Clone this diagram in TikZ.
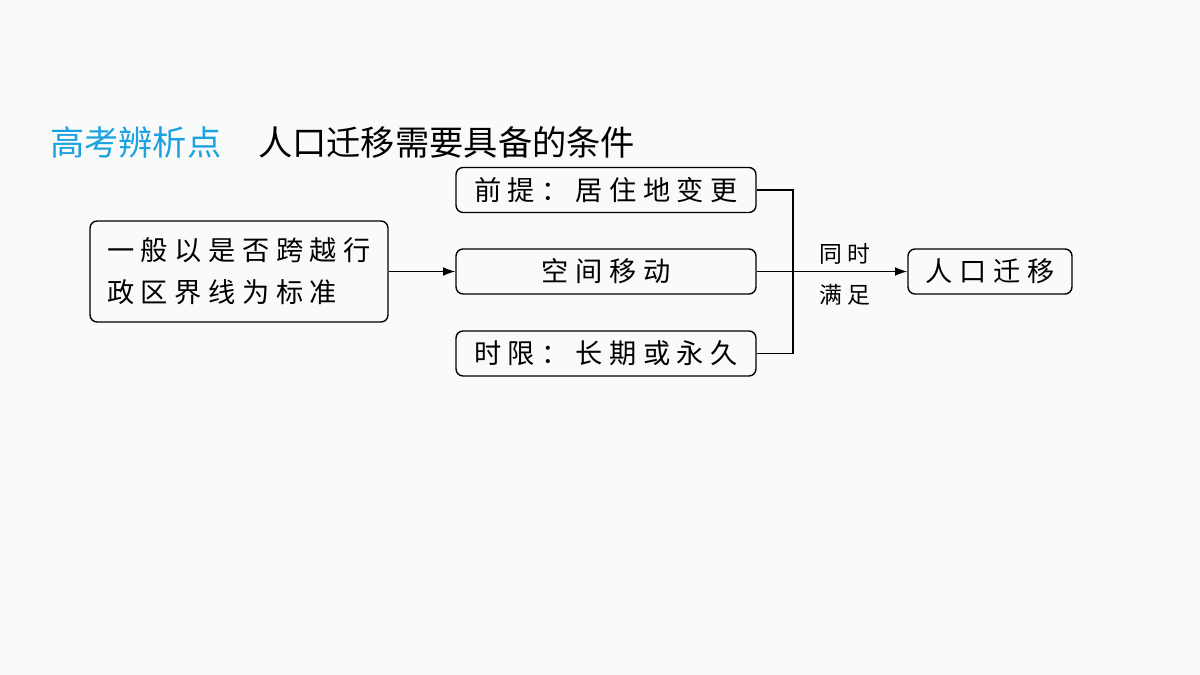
\documentclass[tikz,border=0pt]{standalone}
\usepackage{fontspec}
\setmainfont{Noto Sans CJK SC}
\newfontfamily\cjkwide[LetterSpace=24]{Noto Sans CJK SC}
\usetikzlibrary{positioning,arrows.meta}
\definecolor{titleblue}{RGB}{29,161,224}
\definecolor{bgpaper}{RGB}{248,251,250}

\begin{document}
\begin{tikzpicture}[x=0.02cm,y=-0.02cm,
				box/.style={rectangle, rounded corners=4pt, draw=black, thick, minimum height=0.9cm, font=\cjkwide\fontsize{15.5}{22}\selectfont, inner sep=2pt},
				wide/.style={box, minimum width=6cm},
				link/.style={thick, -{Latex[length=7pt,width=5pt]}}
			]
			\fill[bgpaper] (0,0) rectangle (1200,675);
			\node[anchor=west, font=\fontsize{19.5}{22}\selectfont, text=titleblue] (tag) at (44,142) {高考辨析点};
			\node[anchor=west, font=\fontsize{19.5}{22}\selectfont] (title) at (252,142) {人口迁移需要具备的条件};
			\node[box, minimum width=5.96cm, minimum height=2.02cm, align=left] (rule) at (239,271.5) {一般以是否跨越行\\[2pt]政区界线为标准};
			\node[wide] (premise) at (606,190) {前提：居住地变更};
			\node[wide] (move) at (606,271.5) {空间移动};
			\node[wide] (limit) at (606,353.5) {时限：长期或永久};
			\node[box, minimum width=3.28cm] (migrate) at (990,271.5) {人口迁移};
			\coordinate (joint) at (793,271.5);
			\draw[thick] (premise.east) -| (joint) |- (limit.east);
			\draw[link] (rule.east) -- (move.west);
			\draw[link] (move.east) -- (migrate.west);
			\node[font=\cjkwide\fontsize{13}{16}\selectfont] (same) at (845,254) {同时};
			\node[font=\cjkwide\fontsize{13}{16}\selectfont] (meet) at (845,295) {满足};
			\end{tikzpicture}
\end{document}
